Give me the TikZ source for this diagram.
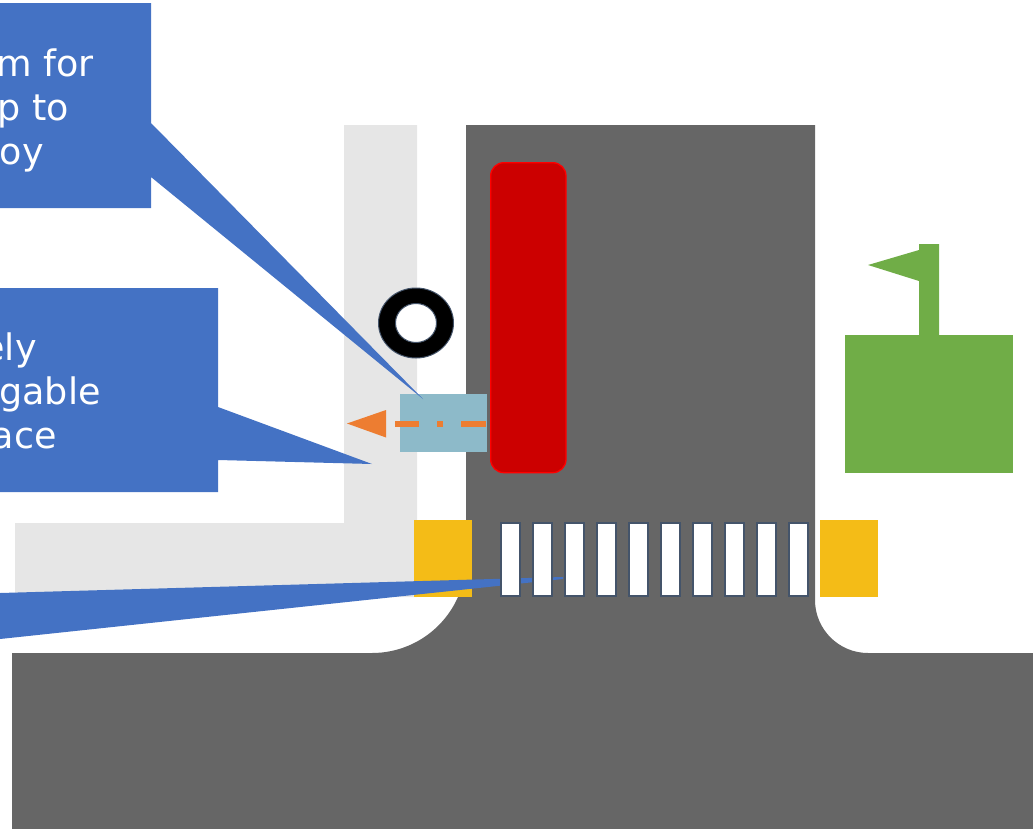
\documentclass[tikz,border=0pt]{standalone}
\usepackage{fontspec}
\setmainfont{DejaVu Sans}
\definecolor{roadgrey}{HTML}{666666}
\definecolor{pathgrey}{HTML}{E6E6E6}
\definecolor{callblue}{HTML}{4472C4}
\definecolor{carred}{HTML}{CC0000}
\definecolor{edgered}{HTML}{FF0000}
\definecolor{slate}{HTML}{44546A}
\definecolor{teal}{HTML}{8DBAC9}
\definecolor{dashorange}{HTML}{ED7D31}
\definecolor{padyellow}{HTML}{F4BC17}
\definecolor{flaggreen}{HTML}{70AD47}
\tikzset{
  road/.style={fill=roadgrey,draw=none},
  walkway/.style={fill=pathgrey,draw=none},
  callout/.style={fill=callblue,draw=none},
  calltext/.style={anchor=base east,inner sep=0pt,text=white,font=\fontsize{27.4}{33}\selectfont},
  pad/.style={fill=padyellow,draw=none},
  stripe/.style={fill=white,draw=slate,line width=1.5pt},
  greenshape/.style={fill=flaggreen,draw=none}
}
\begin{document}
\begin{tikzpicture}[x=0.75pt,y=-0.75pt]
\useasboundingbox (0,0) rectangle (1033,829);
% roads
\fill[road] (466,125) -- (815,125) -- (815,600) arc[start angle=180,end angle=90,radius=53] -- (1033,653) -- (1033,829) -- (12,829) -- (12,653) -- (372,653) arc[start angle=90,end angle=0,radius=94] -- cycle;
% walkway
\fill[walkway] (344,125) -- (417,125) -- (417,597) -- (15,597) -- (15,523) -- (344,523) -- cycle;
% pads
\node[pad,minimum width=43.5pt,minimum height=57.75pt,inner sep=0pt,anchor=north west] (padL) at (414,520) {};
\node[pad,minimum width=43.5pt,minimum height=57.75pt,inner sep=0pt,anchor=north west] (padR) at (820,520) {};
% teal box
\node[fill=teal,minimum width=65.25pt,minimum height=43.5pt,inner sep=0pt,anchor=north west] (box) at (400,394) {};
% callout tails and boxes
\fill[callout] (-5,3) -- (151,3) -- (151,123) -- (423,399) -- (151,177) -- (151,208) -- (-5,208) -- cycle;
\fill[callout] (-5,288) -- (218,288) -- (218,407) -- (372,464) -- (218,460) -- (218,492) -- (-5,492) -- cycle;
\fill[callout] (0,593) -- (563,577) -- (563,579) -- (0,639) -- cycle;
% stripes
\foreach \i in {0,...,9}{
  \node[stripe,minimum width=14.4pt,minimum height=55pt,inner sep=0pt,anchor=north west] (s\i) at ({500+32*\i},522) {};
}
% callout text
\node[calltext] (t1a) at (94,76) {m for};
\node[calltext] (t1b) at (69,120) {p to};
\node[calltext] (t1c) at (44,164) {oy};
\node[calltext] (t2a) at (37,360) {ely};
\node[calltext] (t2b) at (101,404) {gable};
\node[calltext] (t2c) at (57,448) {ace};
% ring
\draw[fill=black,draw=slate,line width=0.75pt] (416,323) ellipse[x radius=37.5,y radius=35];
\draw[fill=white,draw=slate,line width=0.75pt] (416,323) ellipse[x radius=20.5,y radius=19.5];
% car
\node[fill=carred,draw=edgered,line width=1pt,rounded corners=10pt,minimum width=56.5pt,minimum height=232.5pt,inner sep=0pt,anchor=north west] (car) at (490,162) {};
% orange arrow
\coordinate (ostart) at (486,423.5);
\coordinate (oend) at (395,423.5);
\draw[dashorange,line width=4.5pt,dash pattern=on 18.75pt off 13.5pt on 4.5pt off 13.5pt] (ostart) -- (oend);
\fill[dashorange] (347,423.5) -- (386,410) -- (386,437.5) -- cycle;
% flag and building
\node[greenshape,minimum width=126pt,minimum height=103.5pt,inner sep=0pt,anchor=north west] (house) at (845,335) {};
\fill[greenshape] (939,244) -- (919,244) -- (919,250) -- (868,265) -- (919,281) -- (919,335) -- (939,335) -- cycle;
\end{tikzpicture}
\end{document}
